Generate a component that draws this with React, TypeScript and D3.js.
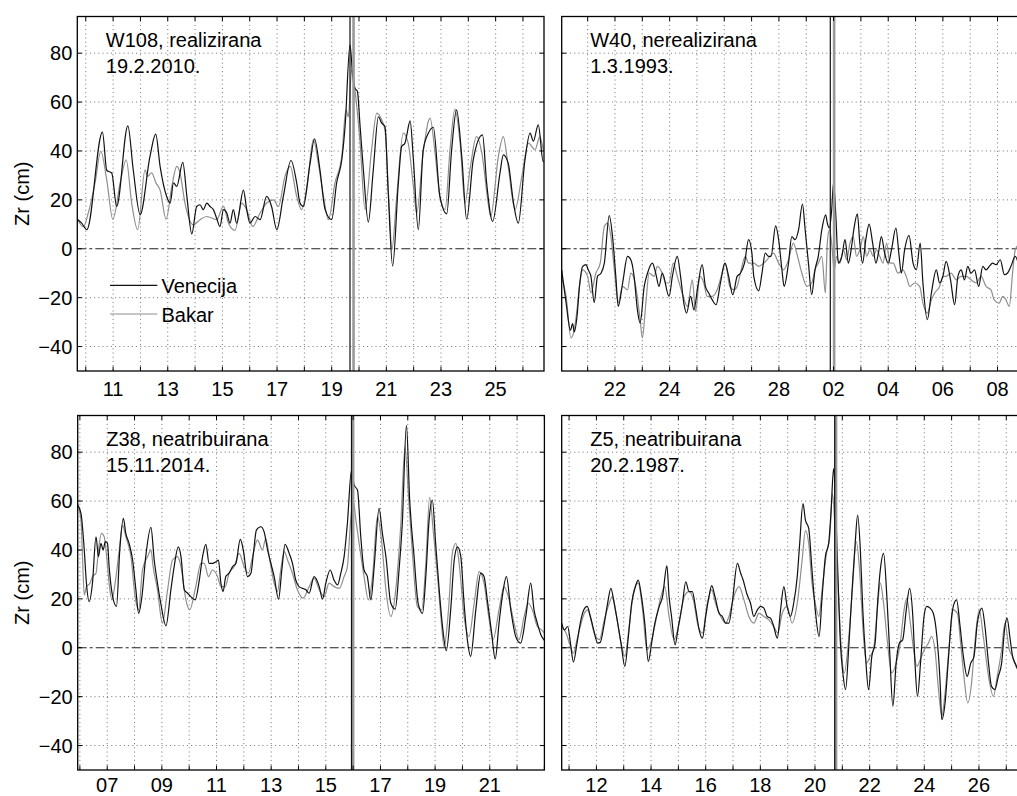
import React from 'react';
import * as d3 from 'd3';

type Pt = [number, number];

const yDomain: [number, number] = [-50, 95];
const yTicks = [-40, -20, 0, 20, 40, 60, 80];
const yTickLabels = ['\u221240', '\u221220', '0', '20', '40', '60', '80'];
const seriesNames = ['Venecija', 'Bakar'];

// Panel 1: W108, realizirana 19.2.2010.
const p1Domain: [number, number] = [9.69, 26.77];
const p1TickDays = [11, 13, 15, 17, 19, 21, 23, 25];
const p1TickLabels = ['11', '13', '15', '17', '19', '21', '23', '25'];
const p1Events = [19.67, 19.8];
const p1Venecija: Pt[] = [
  [9.7, 12], [9.85, 10.5], [10.04, 7.8], [10.61, 47.7], [10.77, 32], [10.95, 31], [11.13, 17.3],
  [11.54, 50.3], [11.74, 32], [11.99, 14], [12.35, 37.8], [12.56, 46.9], [12.72, 33.7], [12.96, 21.4],
  [13.09, 18.7], [13.21, 27], [13.33, 25.5], [13.55, 35.3], [13.7, 21.4], [13.88, 6.1], [14.06, 17.3],
  [14.18, 18], [14.3, 16], [14.43, 18.7], [14.55, 17.3], [14.67, 16], [14.79, 12.5], [14.91, 9.1],
  [15.04, 16], [15.16, 14.6], [15.28, 10.5], [15.4, 16], [15.52, 10.5], [15.77, 24], [15.89, 16],
  [16.01, 10.5], [16.2, 13.2], [16.38, 11.9], [16.62, 21.4], [16.8, 17.3], [16.99, 7.8], [17.23, 21.4],
  [17.51, 36.1], [17.72, 26.9], [17.84, 18.7], [17.96, 17.3], [18.21, 35], [18.37, 45], [18.57, 32.3],
  [18.76, 16], [19.0, 11.9], [19.18, 26.9], [19.37, 36.4], [19.49, 50], [19.67, 83.4], [19.77, 70.5],
  [19.85, 65.7], [19.94, 64.4], [20.04, 50], [20.16, 32.3], [20.34, 10.9], [20.52, 32], [20.71, 54],
  [20.83, 51.4], [20.95, 50], [21.07, 22.8], [21.23, -7], [21.44, 26.9], [21.56, 41.8], [21.68, 43.2],
  [21.74, 46], [21.87, 52.3], [21.99, 36.4], [22.17, 7.8], [22.35, 40.5], [22.54, 47.3], [22.72, 49.7],
  [22.96, 21.4], [23.21, 14.3], [23.39, 40.5], [23.57, 56.8], [23.76, 37.8], [23.94, 12.1], [24.18, 36.4],
  [24.52, 46.6], [24.67, 27], [24.89, 11.2], [25.16, 31], [25.28, 38.4], [25.46, 35], [25.65, 19],
  [25.83, 10.5], [26.07, 36], [26.26, 47.3], [26.38, 44], [26.56, 50.7], [26.74, 35.7], [26.77, 36],
];
const p1Bakar: Pt[] = [
  [9.7, 12], [9.91, 9], [10.1, 15], [10.34, 27], [10.55, 39.8], [10.77, 28], [10.99, 12], [11.26, 27],
  [11.48, 36.4], [11.68, 18.7], [11.9, 7.8], [12.17, 32.3], [12.26, 29.6], [12.41, 31], [12.57, 26.9],
  [12.72, 24], [12.94, 12.1], [13.15, 25.5], [13.33, 33.7], [13.45, 31], [13.63, 18.7], [13.94, 9.8],
  [14.18, 11.9], [14.43, 13.2], [14.79, 11.9], [15.04, 17.3], [15.22, 10.5], [15.46, 7.5], [15.71, 18.7],
  [15.89, 16], [16.11, 9.1], [16.38, 14.6], [16.62, 18.7], [16.87, 20], [17.05, 17.3], [17.29, 29.6],
  [17.48, 33.7], [17.72, 21.4], [17.9, 16], [18.11, 26.9], [18.33, 44.6], [18.51, 35], [18.7, 21.4],
  [18.88, 11.9], [19.12, 26.9], [19.37, 37.8], [19.52, 56.8], [19.61, 54], [19.73, 73.2], [19.85, 65],
  [20.04, 43.2], [20.22, 16], [20.46, 40.5], [20.65, 55.5], [20.83, 52.7], [20.95, 48.6], [21.11, 16],
  [21.2, -0.4], [21.38, 21.4], [21.62, 47.3], [21.8, 43.2], [21.99, 25.5], [22.11, 14.6], [22.35, 39.5],
  [22.6, 53.4], [22.78, 39.5], [22.96, 21.4], [23.15, 16], [23.33, 40.5], [23.51, 57.1], [23.7, 43.2],
  [23.88, 18.7], [24.06, 32.3], [24.3, 45.9], [24.49, 39.5], [24.74, 17.7], [24.82, 13.2], [25.1, 37.8],
  [25.28, 45.9], [25.46, 33.7], [25.71, 16], [25.96, 29.6], [26.2, 43.2], [26.44, 40.5], [26.62, 45.9],
  [26.74, 40.5],
];

// Panel 2: W40, nerealizirana 1.3.1993. (days counted from 1 Feb)
const p2Domain: [number, number] = [20.05, 37.13];
const p2TickDays = [22, 24, 26, 28, 30, 32, 34, 36];
const p2TickLabels = ['22', '24', '26', '28', '02', '04', '06', '08'];
const p2Events = [29.88, 30.02];
const p2Venecija: Pt[] = [
  [20.05, -8.6], [20.21, -22], [20.37, -33.3], [20.45, -30.6], [20.51, -34], [20.61, -27.7], [20.7, -15.4],
  [20.82, -7.2], [20.94, -6.5], [21.02, -8.6], [21.12, -11.3], [21.24, -22], [21.36, -11.3], [21.49, -10],
  [21.61, -5.9], [21.79, 13.6], [21.91, 5], [22.03, -11.3], [22.12, -23.6], [22.28, -14], [22.46, -3.1],
  [22.58, -4.5], [22.7, -11.3], [22.82, -25], [22.92, -30.4], [23.07, -15.4], [23.19, -10], [23.37, -5.9],
  [23.49, -10], [23.61, -15.4], [23.73, -10], [23.98, -19.5], [24.1, -11.3], [24.28, -3.1], [24.4, -11.3],
  [24.52, -22.2], [24.62, -26.3], [24.77, -19.5], [24.89, -25], [25.03, -15.4], [25.19, -6.5],
  [25.31, -15.4], [25.43, -18.1], [25.56, -20.9], [25.7, -22.9], [25.86, -14], [26.02, -5.9],
  [26.16, -11.3], [26.31, -18.8], [26.47, -11.3], [26.59, -10], [26.74, -5.9], [26.89, 3.7], [27.01, -1.8],
  [27.08, -11.3], [27.26, -17.2], [27.38, -10], [27.5, -1.8], [27.62, -3.1], [27.71, -3.1], [27.88, 9.4],
  [27.99, 3.7], [28.11, -8.6], [28.19, -15.4], [28.35, -5.9], [28.47, 5], [28.59, 3.7], [28.72, 7.8],
  [28.86, 18.3], [28.96, 7.8], [29.08, -5.9], [29.2, -18.8], [29.32, -8.6], [29.44, -3.1], [29.57, 7.8],
  [29.71, 13.9], [29.77, 10.5], [29.85, 8.5], [29.93, 15.9], [30.0, 27.1], [30.09, 11.9], [30.17, -5.9],
  [30.3, -3.1], [30.42, 3.7], [30.54, -5.9], [30.66, 1], [30.74, 7.8], [30.87, 14.3], [30.96, 2.3],
  [31.06, -5.9], [31.18, 3.7], [31.3, 10.1], [31.43, 2.3], [31.55, -5.9], [31.64, -1.8], [31.75, 5],
  [31.87, -1.8], [32.0, -5.9], [32.12, -0.4], [32.28, 8.5], [32.4, -3.1], [32.48, -10], [32.6, -0.4],
  [32.76, 5.5], [32.91, -5.9], [33.03, -8.6], [33.17, 2.3], [33.27, -14], [33.43, -29], [33.58, -18.1],
  [33.76, -8.6], [33.88, -14], [34.0, -11.3], [34.12, -5.2], [34.28, -12.7], [34.43, -22.9],
  [34.55, -11.3], [34.67, -8.6], [34.79, -12.7], [34.91, -7.2], [35.03, -10], [35.16, -8.6],
  [35.31, -15.4], [35.46, -7.2], [35.58, -8.6], [35.7, -7.2], [35.82, -5.9], [35.95, -6.5], [36.1, -4.5],
  [36.25, -10.6], [36.37, -9.9], [36.49, -7.2], [36.65, -3.1], [36.8, -8],
];
const p2Bakar: Pt[] = [
  [20.05, -11.3], [20.21, -19.5], [20.39, -36.5], [20.51, -33.1], [20.61, -24.9], [20.7, -15.4],
  [20.82, -8.6], [21.0, -11.3], [21.12, -18.1], [21.3, -10], [21.46, -5.9], [21.61, 9.1], [21.73, 10.5],
  [21.85, 5], [22.0, -11.3], [22.12, -22], [22.28, -15.4], [22.46, -16.8], [22.58, -10], [22.76, -15.4],
  [22.92, -29], [23.0, -36.5], [23.13, -22.2], [23.25, -10], [23.43, -11.3], [23.55, -7.2], [23.73, -10],
  [23.86, -14], [23.98, -14], [24.13, -5.9], [24.28, -11.3], [24.46, -18.1], [24.65, -23.6],
  [24.83, -12.7], [24.95, -25.6], [25.11, -11.3], [25.25, -14], [25.37, -19.5], [25.56, -19.5],
  [25.74, -16.8], [25.92, -10], [26.04, -5.9], [26.2, -15.4], [26.35, -16.8], [26.47, -15.4], [26.59, -10],
  [26.77, -3.1], [26.89, -5.9], [27.08, -5.9], [27.26, -7.2], [27.44, -5.9], [27.68, -3.1], [27.8, -1.8],
  [27.99, -5.9], [28.17, -8.6], [28.35, -4.5], [28.53, 2.3], [28.65, -1.8], [28.84, -10], [29.02, -15.4],
  [29.2, -14], [29.32, -8.6], [29.44, -5.9], [29.57, -3.1], [29.7, -18.1], [29.77, 2.3], [29.85, 7.8],
  [29.93, 2.3], [30.02, -8.6], [30.11, -3.1], [30.23, -5.9], [30.36, -0.4], [30.48, -4.5], [30.6, 2.3],
  [30.72, 5], [30.84, -3.1], [30.96, -0.4], [31.09, 5], [31.21, -3.1], [31.33, -0.4], [31.45, -3.1],
  [31.57, -0.4], [31.69, -3.1], [31.81, -5.9], [31.94, 2.3], [32.06, -5.9], [32.18, -5.9], [32.36, -10],
  [32.54, -8.6], [32.66, -11.3], [32.79, -15.4], [32.97, -14], [33.15, -15.4], [33.27, -22.2],
  [33.43, -26.3], [33.58, -20.9], [33.7, -18.1], [33.88, -15.4], [34.0, -11.3], [34.12, -11.3],
  [34.3, -10], [34.49, -12.7], [34.67, -11.3], [34.85, -11.3], [35.03, -12.7], [35.22, -14],
  [35.4, -11.3], [35.58, -15.4], [35.76, -16.8], [35.88, -20.9], [36.06, -22.2], [36.19, -19.5],
  [36.31, -20.9], [36.43, -23.6], [36.55, -10], [36.65, -0.4], [36.8, 2],
];

// Panel 3: Z38, neatribuirana 15.11.2014.
const p3Domain: [number, number] = [5.92, 23.0];
const p3TickDays = [7, 9, 11, 13, 15, 17, 19, 21];
const p3TickLabels = ['07', '09', '11', '13', '15', '17', '19', '21'];
const p3Events = [15.94, 16.0];
const p3Venecija: Pt[] = [
  [5.91, 58.4], [6.04, 55], [6.16, 40], [6.24, 26.4], [6.34, 18.9], [6.46, 26.4], [6.59, 45.4], [6.68, 37.3],
  [6.77, 42.7], [6.85, 40], [6.93, 43.4], [7.01, 42.7], [7.07, 33.2], [7.2, 20.9], [7.34, 16.9], [7.46, 40],
  [7.59, 52.9], [7.68, 46.8], [7.8, 42.7], [7.93, 35.9], [8.05, 23.7], [8.15, 14.1], [8.27, 20.9],
  [8.41, 37.3], [8.6, 49.2], [8.72, 35.9], [8.84, 26.4], [8.96, 18.2], [9.15, 9], [9.33, 23.7], [9.45, 33.2],
  [9.6, 41.3], [9.7, 37.3], [9.82, 23.7], [9.94, 22.3], [10.06, 20.9], [10.22, 19.6], [10.37, 27.7],
  [10.49, 37.3], [10.61, 42.3], [10.73, 34.5], [10.85, 34.5], [10.98, 35.2], [11.07, 35.9], [11.16, 26.4],
  [11.24, 23], [11.34, 29.1], [11.46, 30.5], [11.59, 33.2], [11.71, 34.5], [11.87, 44.3], [11.98, 40],
  [12.13, 29.1], [12.26, 30.5], [12.35, 38.6], [12.46, 48.1], [12.62, 49.5], [12.74, 47.5], [12.87, 40],
  [12.99, 34.5], [13.11, 29.1], [13.27, 19.9], [13.39, 31.8], [13.51, 42.3], [13.66, 38.6], [13.78, 34.5],
  [13.9, 27.7], [14.02, 25], [14.27, 23.7], [14.39, 22.3], [14.57, 29.1], [14.76, 25], [14.88, 19.9],
  [15.0, 26.4], [15.16, 31.8], [15.3, 27.7], [15.43, 25.7], [15.55, 30.5], [15.67, 37.3], [15.79, 50.9],
  [15.94, 72.6], [16.04, 66.5], [16.16, 64.5], [16.28, 45.4], [16.4, 31.8], [16.52, 29.1], [16.65, 19.6],
  [16.77, 33.2], [16.95, 57], [17.07, 46.8], [17.2, 37.3], [17.38, 18.2], [17.54, 15.8], [17.68, 31.8],
  [17.8, 50.9], [17.95, 91], [18.07, 60.4], [18.23, 37.3], [18.38, 18.2], [18.54, 14.1], [18.66, 29.1],
  [18.78, 52.2], [18.9, 60.4], [19.02, 42.7], [19.15, 23.7], [19.27, 8.8], [19.41, -1.2], [19.57, 15.5],
  [19.7, 35.9], [19.82, 41.3], [19.94, 37.3], [20.06, 18.2], [20.18, 3.3], [20.3, -3.5], [20.49, 15.5],
  [20.67, 30.5], [20.79, 29.1], [20.91, 19.6], [21.07, 5.9], [21.2, -4.6], [21.34, 10.1], [21.46, 21],
  [21.61, 29.1], [21.77, 15.5], [21.95, 4.6], [22.13, 1.9], [22.32, 12.8], [22.5, 26.4], [22.62, 15.5],
  [22.74, 10.1], [22.9, 4.6], [23.0, 3],
];
const p3Bakar: Pt[] = [
  [5.91, 59], [6.04, 52.2], [6.1, 35.9], [6.16, 21.6], [6.24, 25], [6.37, 26.4], [6.46, 29.1], [6.59, 30.5],
  [6.68, 40], [6.79, 46.8], [6.89, 45.4], [6.98, 37.3], [7.07, 26.4], [7.17, 19.6], [7.29, 26.4], [7.44, 40],
  [7.56, 50.2], [7.68, 45.4], [7.87, 37.3], [8.02, 20.9], [8.15, 15.5], [8.29, 31.8], [8.48, 37.3],
  [8.6, 40], [8.68, 33.2], [8.84, 23.7], [9.02, 10.1], [9.21, 23.7], [9.39, 35.9], [9.57, 37.3], [9.7, 33.2],
  [9.88, 19.6], [10.02, 15.5], [10.24, 25], [10.43, 34.5], [10.55, 34.5], [10.71, 29.1], [10.85, 31.8],
  [11.04, 29.1], [11.16, 25], [11.32, 25], [11.46, 30.5], [11.65, 33.2], [11.83, 38.6], [12.01, 33.2],
  [12.17, 30.5], [12.32, 37.3], [12.5, 44.1], [12.68, 40], [12.8, 44.7], [12.95, 35.9], [13.11, 26.4],
  [13.23, 23], [13.35, 31.8], [13.48, 39.3], [13.6, 35.9], [13.78, 30.5], [13.96, 23.7], [14.17, 20.3],
  [14.39, 25], [14.57, 28.4], [14.76, 23.7], [14.94, 20.9], [15.12, 26.4], [15.3, 25], [15.49, 24.3],
  [15.67, 29.1], [15.79, 33.2], [15.91, 52.2], [16.0, 60.4], [16.1, 52.2], [16.22, 42.7], [16.4, 29.1],
  [16.56, 19.6], [16.71, 29.1], [16.89, 53.6], [17.05, 42.7], [17.2, 23.7], [17.38, 12.8], [17.56, 23.7],
  [17.74, 49.5], [17.9, 82.1], [18.02, 63.1], [18.17, 38.6], [18.35, 16.9], [18.51, 15.5], [18.66, 34.5],
  [18.8, 61.5], [18.94, 46.8], [19.09, 29.1], [19.21, 12.8], [19.33, 0.5], [19.49, 15.5], [19.63, 38.6],
  [19.76, 42.7], [19.88, 34.5], [20.06, 12.8], [20.24, 4.6], [20.43, 18.2], [20.61, 31.1], [20.79, 26.4],
  [20.98, 11.4], [21.12, 3.3], [21.34, 15.5], [21.52, 25], [21.71, 19.6], [21.89, 10.1], [22.07, 3.3],
  [22.26, 12.8], [22.41, 18.2], [22.56, 15.5], [22.74, 8.7], [22.9, 7.3], [23.0, 6],
];

// Panel 4: Z5, neatribuirana 20.2.1987.
const p4Domain: [number, number] = [10.73, 27.81];
const p4TickDays = [12, 14, 16, 18, 20, 22, 24, 26];
const p4TickLabels = ['12', '14', '16', '18', '20', '22', '24', '26'];
const p4Events = [20.72, 20.77];
const p4Venecija: Pt[] = [
  [10.73, 10.1], [10.83, 7.3], [10.95, 8.7], [11.05, 1.9], [11.16, -5.8], [11.29, 1.9], [11.41, 10.1],
  [11.54, 15.5], [11.66, 16.9], [11.78, 12.8], [11.9, 7.3], [12.05, 1.9], [12.14, 2.2], [12.27, 8.7],
  [12.41, 18.2], [12.53, 24.3], [12.65, 18.2], [12.78, 10.1], [12.9, 1.9], [13.04, -7.6], [13.17, 4.6],
  [13.29, 18.2], [13.41, 24.3], [13.53, 27.7], [13.65, 20.9], [13.77, 10.1], [13.9, -5.6], [14.02, 1.9],
  [14.14, 10.1], [14.3, 16.9], [14.42, 20.9], [14.58, 33.5], [14.66, 20.9], [14.75, 12.8], [14.88, 1.2],
  [15.0, 8.7], [15.15, 18.2], [15.27, 27], [15.39, 23], [15.51, 23], [15.64, 15.5], [15.76, 7.3],
  [15.88, 3.9], [16.0, 12.8], [16.12, 20.9], [16.22, 25.4], [16.34, 20.9], [16.49, 14.1], [16.61, 12.8],
  [16.73, 10.1], [16.85, 10.1], [16.97, 18.2], [17.16, 34.5], [17.28, 30.5], [17.37, 27.7], [17.5, 22.3],
  [17.64, 18.2], [17.76, 12.8], [17.89, 15.5], [18.01, 16.9], [18.13, 16.2], [18.25, 12.8], [18.37, 12.1],
  [18.49, 8.7], [18.62, 3.9], [18.74, 15.5], [18.86, 25], [18.98, 16.9], [19.1, 12.8], [19.22, 18.2],
  [19.35, 29.1], [19.44, 42.7], [19.56, 59], [19.65, 52.2], [19.77, 48.8], [19.89, 31.8], [20.01, 15.5],
  [20.15, 4.6], [20.26, 20.9], [20.38, 37.3], [20.5, 42.7], [20.59, 56.3], [20.68, 73.3], [20.76, 56.3],
  [20.84, 29.1], [20.93, 1.9], [21.02, -10.3], [21.12, -17.1], [21.23, -0.8], [21.35, 22.3], [21.47, 42.7],
  [21.56, 54.3], [21.66, 40], [21.75, 15.5], [21.85, -3.5], [21.96, -17.1], [22.08, -3.5], [22.2, 1.9],
  [22.29, 18.2], [22.39, 31.8], [22.51, 38.6], [22.63, 20.9], [22.73, -0.8], [22.85, -23.9], [22.97, -6.3],
  [23.09, 1.9], [23.21, 3.3], [23.34, 15.5], [23.46, 24.3], [23.58, 12.8], [23.66, -6.3], [23.75, -19.9],
  [23.87, -4.9], [23.99, 12.8], [24.09, 16.9], [24.21, 16.2], [24.33, 14.1], [24.46, 4.6], [24.58, -14.4],
  [24.64, -29.4], [24.76, -22.6], [24.88, -4.9], [25.0, 12.8], [25.06, 16.9], [25.18, 19.6], [25.31, 8.7],
  [25.43, -3.5], [25.57, -11.7], [25.7, -6.3], [25.82, -3.5], [25.94, 10.1], [26.11, 16.2], [26.22, 8.7],
  [26.35, -6.3], [26.46, -15.8], [26.58, -17.1], [26.71, -11.7], [26.83, -6.3], [26.95, 8.7], [27.03, 12.1],
  [27.13, 4.6], [27.23, -3.5], [27.35, -6.9], [27.45, -10],
];
const p4Bakar: Pt[] = [
  [10.73, 8.7], [10.89, 6], [11.01, 1.9], [11.16, -2.2], [11.29, 3.3], [11.41, 8.7], [11.56, 14.1],
  [11.68, 15.5], [11.8, 11.4], [11.92, 6], [12.11, 3.3], [12.29, 11.4], [12.47, 18.2], [12.59, 21],
  [12.72, 14.1], [12.9, 1.9], [13.04, -3.5], [13.2, 8.7], [13.38, 23.7], [13.53, 26.4], [13.69, 15.5],
  [13.85, -0.8], [13.99, 1.9], [14.18, 11.4], [14.36, 20.9], [14.5, 25], [14.66, 12.8], [14.84, 3.3],
  [15.03, 10.1], [15.21, 20.9], [15.39, 23], [15.55, 19.6], [15.7, 10.1], [15.88, 6], [16.06, 18.2],
  [16.22, 23.7], [16.36, 18.2], [16.55, 12.8], [16.73, 10.1], [16.85, 12.8], [17.03, 20.9], [17.22, 25],
  [17.4, 19.6], [17.58, 12.8], [17.76, 10.1], [17.95, 14.1], [18.13, 12.8], [18.31, 11.4], [18.49, 8.7],
  [18.64, 6], [18.8, 14.1], [18.98, 16.9], [19.16, 10.1], [19.35, 18.2], [19.53, 35.9], [19.65, 47.9],
  [19.77, 42.7], [19.89, 26.4], [20.01, 18.2], [20.14, 12.8], [20.26, 23.7], [20.42, 38.6], [20.54, 45.4],
  [20.64, 63.1], [20.73, 49.5], [20.84, 26.4], [20.95, 1.9], [21.07, -10.3], [21.23, 3.3], [21.35, 20.9],
  [21.51, 43.4], [21.63, 32], [21.75, 8.7], [21.88, -6.3], [22.02, -3.5], [22.14, -0.8], [22.27, 14.1],
  [22.39, 26.4], [22.51, 18.2], [22.63, 4.6], [22.81, -10.3], [22.97, -6.3], [23.12, 1.9], [23.26, 15.5],
  [23.36, 20.3], [23.49, 10.1], [23.61, -0.8], [23.73, -7.6], [23.85, -4.9], [24.0, -0.8], [24.15, 1.9],
  [24.27, 4.6], [24.39, -0.8], [24.52, -17.1], [24.64, -28], [24.76, -18.5], [24.92, 1.9], [25.06, 15.5],
  [25.21, 14.1], [25.33, 1.9], [25.45, -11.7], [25.59, -22.6], [25.73, -14.4], [25.85, 1.9], [26.01, 15.5],
  [26.16, 4.6], [26.35, -11.7], [26.53, -19.9], [26.67, -11.7], [26.83, -0.8], [26.95, 10.1],
  [27.11, -0.8], [27.23, -3.5], [27.35, -7.6], [27.45, -9],
];

const FONT = '"Liberation Sans", Arial, Helvetica, sans-serif';
const PW = 466.7;
const PH = 354.5;

interface PanelCfg {
  id: string;
  title: string;
  date: string;
  left: number;
  top: number;
  labelOffset: number;
  domain: [number, number];
  tickDays: number[];
  tickLabels: string[];
  events: number[];
  venecija: Pt[];
  bakar: Pt[];
  showY: boolean;
  legend: boolean;
}

const panels: PanelCfg[] = [
  { id: 'p1', title: 'W108, realizirana', date: '19.2.2010.', left: 77.3, top: 16.5, labelOffset: 24.5,
    domain: p1Domain, tickDays: p1TickDays, tickLabels: p1TickLabels, events: p1Events,
    venecija: p1Venecija, bakar: p1Bakar, showY: true, legend: true },
  { id: 'p2', title: 'W40, nerealizirana', date: '1.3.1993.', left: 561.7, top: 16.5, labelOffset: 24.5,
    domain: p2Domain, tickDays: p2TickDays, tickLabels: p2TickLabels, events: p2Events,
    venecija: p2Venecija, bakar: p2Bakar, showY: false, legend: false },
  { id: 'p3', title: 'Z38, neatribuirana', date: '15.11.2014.', left: 77.7, top: 415.5, labelOffset: 22,
    domain: p3Domain, tickDays: p3TickDays, tickLabels: p3TickLabels, events: p3Events,
    venecija: p3Venecija, bakar: p3Bakar, showY: true, legend: false },
  { id: 'p4', title: 'Z5, neatribuirana', date: '20.2.1987.', left: 561.7, top: 415.5, labelOffset: 22,
    domain: p4Domain, tickDays: p4TickDays, tickLabels: p4TickLabels, events: p4Events,
    venecija: p4Venecija, bakar: p4Bakar, showY: false, legend: false },
];

const BLACK = '#111';
const GRAY = '#8e8e8e';

function Panel({ cfg }: { cfg: PanelCfg }) {
  const x = d3.scaleLinear().domain(cfg.domain).range([cfg.left, cfg.left + PW]);
  const y = d3.scaleLinear().domain(yDomain).range([cfg.top + PH, cfg.top]);
  const days = d3.range(Math.ceil(cfg.domain[0]), Math.floor(cfg.domain[1]) + 1);
  const line = d3.line<Pt>().x((d) => x(d[0])).y((d) => y(d[1])).curve(d3.curveMonotoneX);
  const x0 = cfg.left;
  const x1 = cfg.left + PW;
  const y0 = cfg.top;
  const y1 = cfg.top + PH;
  const clipId = `clip-${cfg.id}`;
  const tick = 4.5;
  return (
    <g>
      <defs>
        <clipPath id={clipId}>
          <rect x={x0} y={y0} width={PW} height={PH} />
        </clipPath>
      </defs>
      <g clipPath={`url(#${clipId})`}>
        {days.map((d) => (
          <line key={`gx${d}`} x1={x(d)} x2={x(d)} y1={y0} y2={y1} stroke="#222" strokeWidth={0.8}
            strokeDasharray="1 3.2" opacity={0.8} />
        ))}
        {yTicks.filter((t) => t !== 0).map((t) => (
          <line key={`gy${t}`} x1={x0} x2={x1} y1={y(t)} y2={y(t)} stroke="#222" strokeWidth={0.8}
            strokeDasharray="1 3.2" opacity={0.8} />
        ))}
        <line x1={x0} x2={x1} y1={y(0)} y2={y(0)} stroke="#222" strokeWidth={1}
          strokeDasharray="9 3 3 3" />
        <path d={line(cfg.bakar) || ''} fill="none" stroke={GRAY} strokeWidth={1.2} strokeLinejoin="round" />
        <path d={line(cfg.venecija) || ''} fill="none" stroke={BLACK} strokeWidth={1.2} strokeLinejoin="round" />
        <line x1={x(cfg.events[1])} x2={x(cfg.events[1])} y1={y0} y2={y1} stroke="#999" strokeWidth={2.6} />
        <line x1={x(cfg.events[0])} x2={x(cfg.events[0])} y1={y0} y2={y1} stroke={BLACK} strokeWidth={1.2} />
        {days.map((d) => (
          <g key={`tk${d}`}>
            <line x1={x(d)} x2={x(d)} y1={y1} y2={y1 - tick} stroke="#000" strokeWidth={1} />
            <line x1={x(d)} x2={x(d)} y1={y0} y2={y0 + tick} stroke="#000" strokeWidth={1} />
          </g>
        ))}
        {yTicks.map((t) => (
          <g key={`ty${t}`}>
            <line x1={x0} x2={x0 + tick} y1={y(t)} y2={y(t)} stroke="#000" strokeWidth={1} />
            <line x1={x1} x2={x1 - tick} y1={y(t)} y2={y(t)} stroke="#000" strokeWidth={1} />
          </g>
        ))}
      </g>
      <rect x={x0} y={y0} width={PW} height={PH} fill="none" stroke="#000" strokeWidth={1.3} />
      <text x={x0 + 28.5} y={y0 + 30.8} fontSize={20} fontFamily={FONT} fill="#000">{cfg.title}</text>
      <text x={x0 + 28.5} y={y0 + 56.8} fontSize={20} fontFamily={FONT} fill="#000">{cfg.date}</text>
      {cfg.tickDays.map((d, i) => (
        <text key={`xl${d}`} x={x(d)} y={y1 + cfg.labelOffset} fontSize={20} fontFamily={FONT}
          textAnchor="middle" fill="#000">{cfg.tickLabels[i]}</text>
      ))}
      {cfg.showY && yTicks.map((t, i) => (
        <text key={`yl${t}`} x={x0 - 5} y={y(t) + 7.2} fontSize={20} fontFamily={FONT} textAnchor="end"
          fill="#000">{yTickLabels[i]}</text>
      ))}
      {cfg.showY && (
        <text transform={`translate(${29},${(y0 + y1) / 2}) rotate(-90)`} fontSize={20} fontFamily={FONT}
          textAnchor="middle" fill="#000">Zr (cm)</text>
      )}
      {cfg.legend && (
        <g>
          <line x1={110} x2={157.3} y1={285.3} y2={285.3} stroke={BLACK} strokeWidth={1.2} />
          <text x={161.5} y={292.6} fontSize={20} fontFamily={FONT} fill="#000">{seriesNames[0]}</text>
          <line x1={110} x2={157.3} y1={314} y2={314} stroke={GRAY} strokeWidth={1.2} />
          <text x={161.5} y={321.5} fontSize={20} fontFamily={FONT} fill="#000">{seriesNames[1]}</text>
        </g>
      )}
    </g>
  );
}

export default function App() {
  return (
    <svg width={1017} height={796} viewBox="0 0 1017 796"
      style={{ position: 'absolute', left: 0, top: 0, display: 'block', background: '#fff' }}>
      <rect x={0} y={0} width={1017} height={796} fill="#fff" />
      {panels.map((p) => <Panel key={p.id} cfg={p} />)}
    </svg>
  );
}
